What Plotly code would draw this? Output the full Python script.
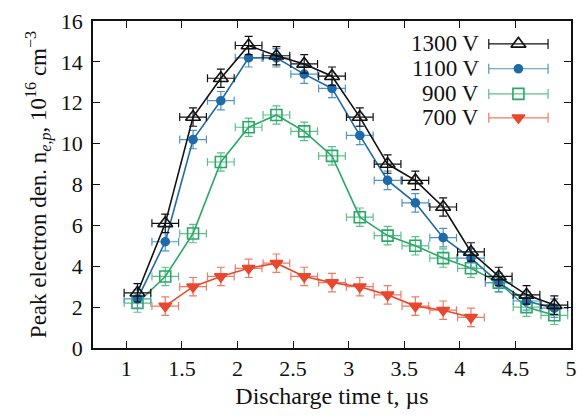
import plotly.graph_objects as go

# Discharge time samples (µs)
t_full = [1.1, 1.35, 1.6, 1.85, 2.1, 2.35, 2.6, 2.85, 3.1, 3.35, 3.6, 3.85, 4.1, 4.35, 4.6, 4.85]
t_700 = [1.35, 1.6, 1.85, 2.1, 2.35, 2.6, 2.85, 3.1, 3.35, 3.6, 3.85, 4.1]

# Peak electron density (10^16 cm^-3) per discharge voltage
n_1300 = [2.7, 6.1, 11.3, 13.2, 14.8, 14.3, 13.9, 13.3, 11.3, 9.0, 8.2, 6.9, 4.7, 3.5, 2.6, 2.1]
n_1100 = [2.4, 5.2, 10.2, 12.1, 14.2, 14.2, 13.4, 12.7, 10.4, 8.2, 7.1, 5.4, 4.4, 3.2, 2.3, 1.95]
n_900 = [2.2, 3.5, 5.6, 9.1, 10.8, 11.4, 10.6, 9.4, 6.4, 5.5, 5.0, 4.4, 3.9, 3.2, 2.0, 1.6]
n_700 = [2.05, 3.0, 3.5, 3.9, 4.15, 3.5, 3.2, 3.0, 2.6, 2.05, 1.85, 1.5]

# Measurement uncertainties
t_err = 0.12
n_err = 0.45

series_labels = ["1300 V", "1100 V", "900 V", "700 V"]
FONT = "Liberation Serif"
INK = "#111111"

styles = [
    dict(line="#111111", err="#111111", symbol="triangle-up-open", size=13),
    dict(line="#1f6aa8", err="#4f94c8", symbol="circle", size=8),
    dict(line="#2aa865", err="#5cc08a", symbol="square-open", size=11),
    dict(line="#e8482e", err="#ef7a66", symbol="triangle-down", size=11),
]

data = [(t_full, n_1300), (t_full, n_1100), (t_full, n_900), (t_700, n_700)]

fig = go.Figure()

# draw lowest-voltage series first so the 1300 V curve sits on top
for (t, n), st, name in reversed(list(zip(data, styles, series_labels))):
    fig.add_trace(go.Scatter(
        x=t, y=n, mode="lines+markers", name=name, showlegend=False,
        line=dict(color=st["line"], width=1.6),
        marker=dict(symbol=st["symbol"], size=st["size"], color=st["line"],
                    line=dict(color=st["line"], width=1.6)),
        error_x=dict(type="constant", value=t_err, color=st["err"], thickness=1.2, width=4),
        error_y=dict(type="constant", value=n_err, color=st["err"], thickness=1.2, width=4),
        cliponaxis=False,
    ))

# key: label text on the left, sample marker with horizontal bar on the right
key_rows = [0.930, 0.854, 0.777, 0.704]
for name, st, yk in zip(series_labels, styles, key_rows):
    fig.add_trace(go.Scatter(
        x=[0.890], y=[yk], xaxis="x2", yaxis="y2", mode="markers", showlegend=False,
        marker=dict(symbol=st["symbol"], size=st["size"], color=st["line"],
                    line=dict(color=st["line"], width=1.6)),
        error_x=dict(type="constant", value=0.062, color=st["err"], thickness=1.2, width=5),
        hoverinfo="skip",
    ))
    fig.add_annotation(x=0.812, y=yk, xref="paper", yref="paper", text=name,
                       showarrow=False, xanchor="right", yanchor="middle",
                       font=dict(family=FONT, size=23, color=INK))

axis_common = dict(
    showline=True, linecolor=INK, linewidth=1.5, mirror="ticks",
    ticks="inside", ticklen=7, tickwidth=1.2, tickcolor=INK,
    showgrid=False, zeroline=False,
    tickfont=dict(family=FONT, size=22, color=INK),
)

fig.update_layout(
    width=586, height=418,
    margin=dict(l=93, r=9, t=20, b=70),
    paper_bgcolor="white", plot_bgcolor="white",
    xaxis=dict(range=[0.7, 5.0], tickvals=[1, 1.5, 2, 2.5, 3, 3.5, 4, 4.5, 5],
               ticktext=["1", "1.5", "2", "2.5", "3", "3.5", "4", "4.5", "5"],
               title=dict(text="Discharge time t, µs", standoff=7,
                          font=dict(family=FONT, size=24, color=INK)),
               **axis_common),
    yaxis=dict(range=[0, 16], tickvals=list(range(0, 17, 2)),
               ticklabelstandoff=4,
               title=dict(text="Peak electron den. n<sub><i>e,p</i></sub>, 10<sup>16</sup> cm<sup>−3</sup>",
                          standoff=8, font=dict(family=FONT, size=23, color=INK)),
               **axis_common),
    xaxis2=dict(range=[0, 1], overlaying="x", visible=False, fixedrange=True),
    yaxis2=dict(range=[0, 1], overlaying="y", visible=False, fixedrange=True),
    showlegend=False,
)

fig.write_html("out.html")
